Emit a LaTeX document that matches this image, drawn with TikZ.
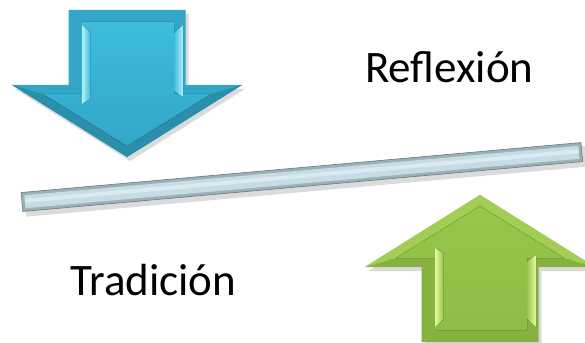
\documentclass[tikz,border=0pt]{standalone}
\usepackage{fontspec}
\setmainfont{Carlito}
\usetikzlibrary{calc}

\definecolor{blueEdge}{HTML}{34A7C9}
\definecolor{blueDiag}{HTML}{2B8EAB}
\definecolor{blueTop}{HTML}{3EBCDE}
\definecolor{blueBot}{HTML}{32A6C8}
\definecolor{blueStripe}{HTML}{B4F1FA}
\definecolor{greenEdge}{HTML}{86B240}
\definecolor{greenDiag}{HTML}{A2CE55}
\definecolor{greenTop}{HTML}{98C64C}
\definecolor{greenBot}{HTML}{8EBC45}
\definecolor{greenStripe}{HTML}{E8FBA4}
\definecolor{barEdge}{HTML}{9DB0B8}
\definecolor{barLine}{HTML}{6E8088}
\definecolor{barFace}{HTML}{C6DCE5}
\definecolor{barLight}{HTML}{DAEAF0}

\tikzset{
  shadowfill/.style={fill=black, opacity=.14},
  wordtext/.style={font=\fontsize{45}{54}\selectfont, inner sep=0, anchor=base west},
}

\begin{document}
\begin{tikzpicture}[x=1pt, y=-1pt]
\useasboundingbox (0,0) rectangle (585,342);
\clip (0,0) rectangle (585,342);
% the bar
\begin{scope}[shift={(22,202)}, rotate=5.1]
  \fill[shadowfill] (3,-6) rectangle (566,15);
  \filldraw[fill=barEdge, draw=barLine, line width=.7pt] (0,-9.5) rectangle (562,9.5);
  \fill[barFace] (3,-6.5) rectangle (559,6.5);
  \fill[barLight] (3,-3) rectangle (559,1);
\end{scope}
% the two arrows, tip at the origin of each scope
\foreach \tx/\ty/\flip/\col in {127/157/1/blue, 480/195/-1/green} {
  \begin{scope}[shift={(\tx+3,\ty+4)}, yscale=\flip]
    \fill[shadowfill] (-58.5,-147) -- (58.5,-147) -- (58.5,-72) -- (115,-72) -- (0,0) -- (-115,-72) -- (-58.5,-72) -- cycle;
  \end{scope}
  \begin{scope}[shift={(\tx,\ty)}, yscale=\flip]
    \fill[\col Edge] (-58.5,-147) -- (58.5,-147) -- (58.5,-72) -- (115,-72) -- (0,0) -- (-115,-72) -- (-58.5,-72) -- cycle;
    \fill[\col Diag] (-115,-72) -- (0,0) -- (115,-72) -- (84,-63) -- (0,-11) -- (-84,-63) -- cycle;
    \fill[top color=\col Top, bottom color=\col Bot] (-45,-135) -- (47,-135) -- (47,-63) -- (84,-63) -- (0,-11) -- (-84,-63) -- (-45,-63) -- cycle;
    \fill[left color=\col Stripe, right color=\col Top] (-45,-132) -- (-37,-125) -- (-37,-58) -- (-45,-53) -- cycle;
    \fill[left color=\col Top, right color=\col Stripe] (56,-132) -- (47,-124) -- (47,-66) -- (56,-60) -- cycle;
  \end{scope}
}
% the words
\node[wordtext] (reflexion) at (365,83) {Reflexión};
\node[wordtext] (tradicion) at (70,295) {Tradición};
\end{tikzpicture}
\end{document}
